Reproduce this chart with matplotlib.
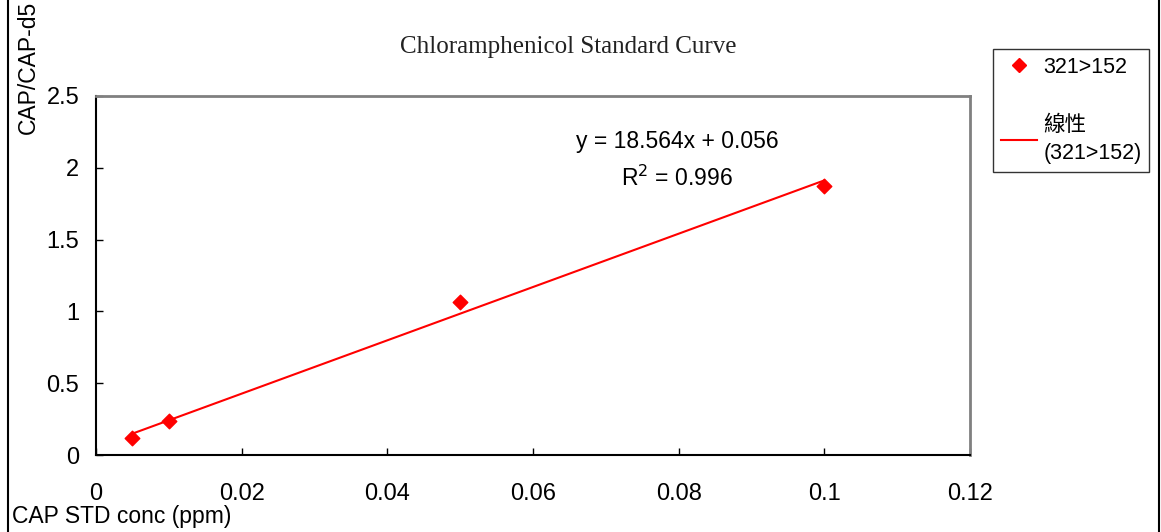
import matplotlib.pyplot as plt
from matplotlib.lines import Line2D

plt.rcParams['font.family'] = ['Liberation Sans', 'Noto Sans CJK TC', 'DejaVu Sans']

# standard concentrations (ppm) and area ratios CAP/CAP-d5
conc = [0.005, 0.01, 0.05, 0.1]
ratio = [0.118, 0.237, 1.065, 1.875]

# trendline as reported on the chart
slope = 18.564
intercept = 0.056
r2 = 0.996

x_ticks = [0, 0.02, 0.04, 0.06, 0.08, 0.1, 0.12]
x_ticklabels = ['0', '0.02', '0.04', '0.06', '0.08', '0.1', '0.12']
y_ticks = [0, 0.5, 1, 1.5, 2, 2.5]
y_ticklabels = ['0', '0.5', '1', '1.5', '2', '2.5']

fig = plt.figure(figsize=(11.61, 5.32), dpi=100)
ax = fig.add_axes([96 / 1161, 1 - 455 / 532, 874 / 1161, 359 / 532])

ax.scatter(conc, ratio, marker='D', s=55, color='#ff0000', zorder=3)
fit_x = [min(conc), max(conc)]
fit_y = [slope * v + intercept for v in fit_x]
ax.plot(fit_x, fit_y, color='#ff0000', lw=1.5, zorder=2)

ax.set_xlim(0, 0.12)
ax.set_ylim(0, 2.5)
ax.set_xticks(x_ticks)
ax.set_xticklabels(x_ticklabels)
ax.set_yticks(y_ticks)
ax.set_yticklabels(y_ticklabels)
ax.tick_params(direction='in', length=5, width=1, labelsize=17, color='black')
ax.tick_params(axis='x', pad=20)
ax.tick_params(axis='y', pad=12)

for s in ['top', 'right']:
    ax.spines[s].set_color('#808080')
    ax.spines[s].set_linewidth(2)
for s in ['left', 'bottom']:
    ax.spines[s].set_color('black')
    ax.spines[s].set_linewidth(1.5)

ax.text(0.0798, 2.185, f'y = {slope}x + {intercept}', ha='center', va='center', fontsize=16.5)
ax.text(0.0798, 1.93, f'R$^2$ = {r2}', ha='center', va='center', fontsize=16.5)

fig.text(568 / 1161, 1 - 47 / 532, 'Chloramphenicol Standard Curve', ha='center', va='center',
         fontsize=18, family='Liberation Serif', color='#222222')
fig.text(28 / 1161, 1 - 67 / 532, 'CAP/CAP-d5', rotation=90, ha='center', va='center', fontsize=16.5)
fig.text(12 / 1161, 1 - 516 / 532, 'CAP STD conc (ppm)', ha='left', va='center', fontsize=16.5)

# legend box
handles = [Line2D([], [], marker='D', color='#ff0000', ls='none', markersize=7),
           Line2D([], [], color='#ff0000', lw=1.5)]
leg = fig.legend(handles, ['321>152', '線性\n(321>152)'], loc='upper left',
                 bbox_to_anchor=(993 / 1161, 1 - 49 / 532), borderaxespad=0,
                 fontsize=15.5, frameon=True, fancybox=False, edgecolor='black',
                 labelspacing=1.75, handlelength=1.7, borderpad=0.35, handletextpad=0.3)
leg.get_frame().set_linewidth(1)
for t in leg.get_texts():
    t.set_linespacing(1.45)

# chart area border lines
fig.add_artist(Line2D([8 / 1161, 8 / 1161], [0, 1], color='black', lw=1.5))
fig.add_artist(Line2D([1159 / 1161, 1159 / 1161], [0, 1], color='black', lw=1.5))

fig.savefig('out.png', dpi=100)
